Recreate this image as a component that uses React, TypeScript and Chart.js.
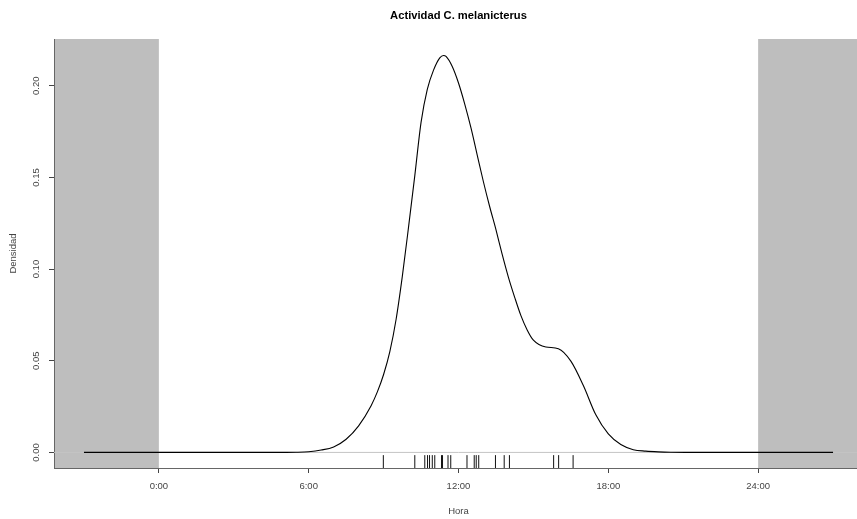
import { useEffect, useRef } from "react";
import { Chart, registerables } from "chart.js";

Chart.register(...registerables);

// Density curve (hours vs density)
const hours = [-3, 0, 3, 4.5, 5, 5.5, 6, 6.5, 7, 7.5, 8, 8.5, 8.75, 9, 9.25, 9.5, 9.75, 10, 10.25, 10.5, 10.75, 11, 11.25, 11.4, 11.5, 11.75, 12, 12.25, 12.5, 12.75, 13, 13.25, 13.5, 13.75, 14, 14.25, 14.5, 14.75, 15, 15.5, 16, 16.5, 17, 17.5, 18, 18.5, 19, 19.5, 20, 20.5, 21.5, 24, 27];
const density = [0, 0, 0, 0, 0.00002, 0.0001, 0.0004, 0.0013, 0.003, 0.0072, 0.0145, 0.0255, 0.033, 0.0425, 0.055, 0.0725, 0.096, 0.123, 0.151, 0.18, 0.198, 0.2085, 0.2152, 0.2165, 0.216, 0.2105, 0.2015, 0.19, 0.177, 0.1622, 0.1475, 0.134, 0.1215, 0.108, 0.0955, 0.0846, 0.0746, 0.0668, 0.0612, 0.0575, 0.0566, 0.0498, 0.0365, 0.0205, 0.0101, 0.0043, 0.0015, 0.0007, 0.0003, 0.0001, 0.00002, 0, 0];

// Observed records (rug)
const rugTimes = [8.99, 10.25, 10.65, 10.76, 10.84, 10.95, 11.05, 11.32, 11.36, 11.58, 11.69, 12.34, 12.63, 12.71, 12.81, 13.48, 13.83, 14.04, 15.81, 16.01, 16.59];

// Axes
const xTicks = [0, 6, 12, 18, 24];
const xTickLabels = ["0:00", "6:00", "12:00", "18:00", "24:00"];
const yTicks = [0, 0.05, 0.1, 0.15, 0.2];
const xRange = [-4.2, 28.2];
const yRange = [-0.0085, 0.2255];
const dayStart = 0;
const dayEnd = 24;

const FONT = "'Liberation Sans', Arial, Helvetica, sans-serif";

export default function App() {
  const ref = useRef<HTMLCanvasElement | null>(null);

  useEffect(() => {
    const canvas = ref.current;
    if (!canvas) return;

    const rugTop = yRange[0] + 0.03 * (yRange[1] - yRange[0]);
    const rugData: any[] = [];
    rugTimes.forEach((t) => {
      rugData.push({ x: t, y: yRange[0] });
      rugData.push({ x: t, y: rugTop });
      rugData.push({ x: t, y: null });
    });

    const shadePlugin = {
      id: "nightShade",
      beforeDraw(chart: any) {
        const { ctx, chartArea, scales } = chart;
        const xs = scales.x;
        ctx.save();
        ctx.fillStyle = "#bebebe";
        const l0 = xs.getPixelForValue(xRange[0]);
        const r0 = xs.getPixelForValue(dayStart);
        ctx.fillRect(l0, chartArea.top, r0 - l0, chartArea.bottom - chartArea.top);
        const l1 = xs.getPixelForValue(dayEnd);
        const r1 = xs.getPixelForValue(xRange[1]);
        ctx.fillRect(l1, chartArea.top, r1 - l1, chartArea.bottom - chartArea.top);
        ctx.restore();
      },
    };

    const chart = new Chart(canvas, {
      type: "line",
      data: {
        datasets: [
          {
            label: "density",
            data: hours.map((h, i) => ({ x: h, y: density[i] })),
            borderColor: "#000",
            borderWidth: 1.1,
            pointRadius: 0,
            cubicInterpolationMode: "monotone",
            fill: false,
            order: 0,
          },
          {
            label: "rug",
            data: rugData,
            borderColor: "#111",
            borderWidth: 1,
            pointRadius: 0,
            spanGaps: false,
            fill: false,
            order: 1,
          },
          {
            label: "zero",
            data: [
              { x: xRange[0], y: 0 },
              { x: xRange[1], y: 0 },
            ],
            borderColor: "#c4c4c4",
            borderWidth: 1,
            pointRadius: 0,
            fill: false,
            order: 2,
          },
        ],
      },
      options: {
        animation: false,
        responsive: false,
        parsing: false as any,
        layout: { padding: 0 },
        plugins: {
          legend: { display: false },
          tooltip: { enabled: false },
          title: {
            display: true,
            text: "Actividad C. melanicterus",
            fullSize: false,
            color: "#000",
            font: { family: FONT, size: 11.2, weight: "bold" },
            padding: { top: 9.3, bottom: 16.26 },
          },
        },
        scales: {
          x: {
            type: "linear",
            position: "bottom",
            min: xRange[0],
            max: xRange[1],
            afterBuildTicks: (scale: any) => {
              scale.ticks = xTicks.map((v) => ({ value: v }));
            },
            afterFit: (scale: any) => {
              scale.height = 51;
            },
            ticks: {
              autoSkip: false,
              maxRotation: 0,
              minRotation: 0,
              padding: 8,
              color: "#444",
              font: { family: FONT, size: 9.5 },
              callback: (v: any) => {
                const i = xTicks.indexOf(Number(v));
                return i >= 0 ? xTickLabels[i] : "";
              },
            },
            grid: {
              display: true,
              drawOnChartArea: false,
              drawTicks: true,
              tickLength: 5,
              color: "#444",
            },
            border: { display: true, color: "#666", width: 1 },
            title: {
              display: true,
              text: "Hora",
              color: "#444",
              font: { family: FONT, size: 9.5 },
              padding: { top: 0, bottom: 1.7 },
            },
          },
          y: {
            type: "linear",
            position: "left",
            min: yRange[0],
            max: yRange[1],
            afterBuildTicks: (scale: any) => {
              scale.ticks = yTicks.map((v) => ({ value: v }));
            },
            afterFit: (scale: any) => {
              scale.width = 54;
            },
            ticks: {
              autoSkip: false,
              minRotation: 90,
              maxRotation: 90,
              crossAlign: "center",
              padding: 3,
              color: "#444",
              font: { family: FONT, size: 9.5 },
              callback: (v: any) => Number(v).toFixed(2),
            },
            grid: {
              display: true,
              drawOnChartArea: false,
              drawTicks: true,
              tickLength: 5,
              color: "#444",
            },
            border: { display: true, color: "#666", width: 1 },
            title: {
              display: true,
              text: "Densidad",
              color: "#444",
              font: { family: FONT, size: 9.5 },
              padding: { top: 7.8, bottom: 0 },
            },
          },
        },
      } as any,
      plugins: [shadePlugin],
    });

    return () => chart.destroy();
  }, []);

  return (
    <div
      style={{
        position: "fixed",
        left: 0,
        top: 0,
        width: 857,
        height: 519,
        overflow: "hidden",
        background: "#fff",
      }}
    >
      <canvas ref={ref} width={863} height={519} style={{ display: "block" }} />
    </div>
  );
}
